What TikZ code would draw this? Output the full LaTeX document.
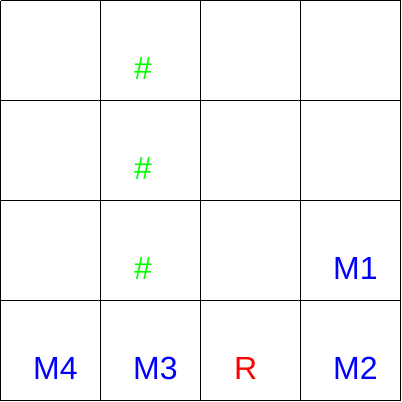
\documentclass[tikz,border=0pt]{standalone}
\usepackage{fontspec}
\setmainfont{Liberation Sans}
\usetikzlibrary{positioning}
\definecolor{mblue}{RGB}{0,0,255}
\definecolor{rred}{RGB}{255,0,0}
\definecolor{wgreen}{RGB}{0,255,0}

\begin{document}
\begin{tikzpicture}[x=1pt,y=-1pt,
                    label/.style={anchor=base west,inner sep=0pt,
                                  font=\fontsize{32}{32}\selectfont},
                    machine/.style={label,text=mblue},
                    robot/.style={label,text=rred},
                    wall/.style={label,text=wgreen}]
  \useasboundingbox (0,0) rectangle (402,402);
  \foreach \i in {0,...,4} {
    \draw[line width=1pt] (100*\i+0.5,0.5) -- (100*\i+0.5,400.5);
    \draw[line width=1pt] (0.5,100*\i+0.5) -- (400.5,100*\i+0.5);
  }
  \node[wall]    (w1) at (134,79)  {\#};
  \node[wall]    (w2) at (134,179) {\#};
  \node[wall]    (w3) at (134,279) {\#};
  \node[machine] (m1) at (333,279) {M1};
  \node[machine] (m2) at (333,379) {M2};
  \node[robot]   (r)  at (234,379) {R};
  \node[machine] (m3) at (133,379) {M3};
  \node[machine] (m4) at (33,379)  {M4};
\end{tikzpicture}
\end{document}
